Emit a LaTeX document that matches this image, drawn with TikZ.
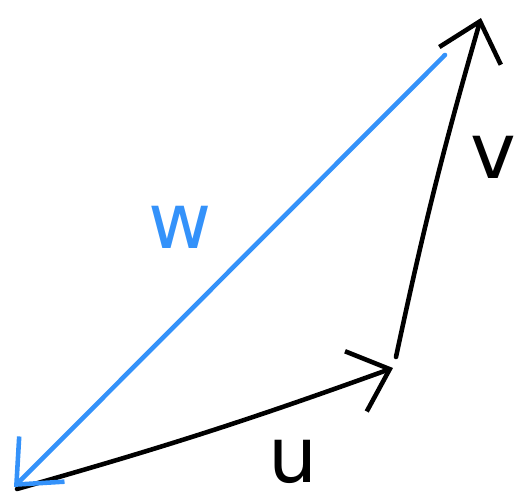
\documentclass[tikz,border=0pt]{standalone}
\usepackage{fontspec}
\setmainfont{DejaVu Sans}
\usetikzlibrary{arrows.meta}
\definecolor{penblue}{RGB}{52,146,250}
\tikzset{
  vec/.style={line width=1.3pt,line cap=round,-{Straight Barb[length=3.6mm,width=6.4mm,line width=1.3pt]}},
  hand/.style={font=\fontsize{22}{22}\selectfont,inner sep=1pt}
}
\begin{document}
\begin{tikzpicture}
        \useasboundingbox (0,0) rectangle (5.24,4.97);
        \coordinate (O) at (0.17,0.08);
        \coordinate (A) at (3.93,1.29);
        \coordinate (B) at (3.96,1.40);
        \coordinate (C) at (4.81,4.79);
        \coordinate (D) at (4.45,4.42);
        \draw[vec] (O) to[bend right=2] (A);
        \draw[vec] (B) to[bend left=2] (C);
        \draw[vec,penblue] (D) -- (0.14,0.10);
        \node[hand,penblue] (w) at (1.80,2.70) {w};
        \node[hand] (v) at (4.93,3.40) {v};
        \node[hand] (u) at (2.93,0.36) {u};
    \end{tikzpicture}
\end{document}
